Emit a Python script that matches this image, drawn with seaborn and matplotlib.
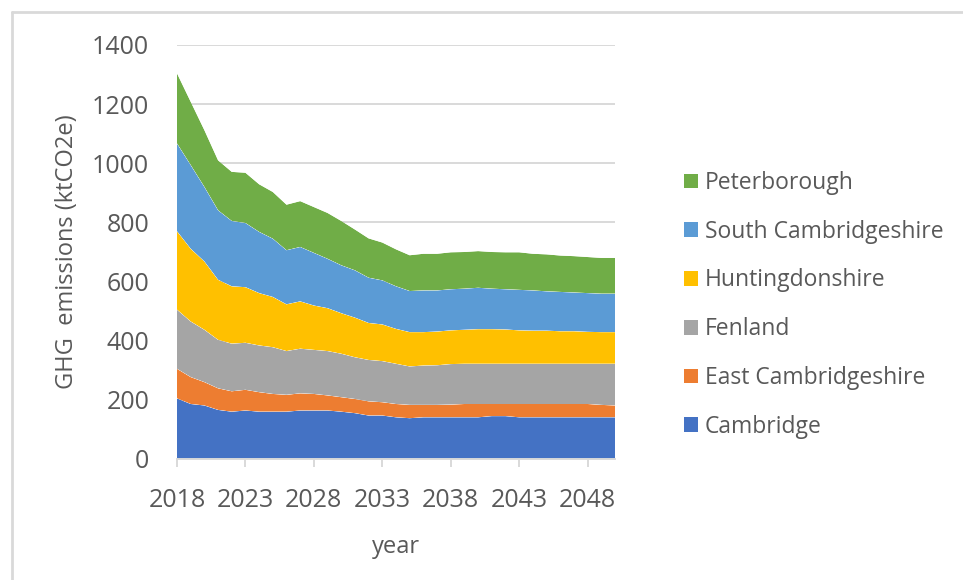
import pandas as pd
import matplotlib.pyplot as plt
from matplotlib.patches import Patch
from matplotlib.lines import Line2D
import seaborn as sns
import seaborn.objects as so

# Annual greenhouse gas emissions by district (ktCO2e)
years = list(range(2018, 2051))

cambridge = [205, 186, 181, 166, 160, 164, 160, 160, 160, 164, 164, 164, 160,
             155, 147, 147, 141, 138, 141, 141, 141, 141, 141, 145, 145, 141,
             141, 141, 141, 141, 141, 141, 141]
east_cambridgeshire = [100, 91, 79, 73, 69, 70, 66, 60, 57, 58, 56, 51, 49,
                       48, 48, 45, 45, 45, 42, 42, 43, 45, 45, 41, 41, 45,
                       45, 45, 45, 45, 45, 42, 40]
fenland = [200, 188, 177, 164, 161, 159, 158, 158, 148, 151, 149, 150, 147,
           141, 140, 139, 136, 130, 133, 134, 137, 136, 136, 136, 136, 136,
           136, 136, 136, 136, 136, 139, 141]
huntingdonshire = [265, 246, 231, 203, 194, 188, 177, 170, 158, 160, 150, 145,
                   137, 134, 125, 124, 118, 116, 113, 114, 114, 115, 117, 117,
                   116, 113, 112, 112, 110, 110, 108, 107, 107]
south_cambridgeshire = [297, 283, 252, 235, 221, 217, 207, 197, 183, 184, 178,
                        167, 162, 160, 153, 149, 144, 139, 141, 139, 139, 139,
                        140, 137, 136, 137, 136, 133, 133, 131, 131, 130, 130]
peterborough = [237, 214, 192, 169, 166, 170, 161, 158, 154, 155, 155, 155,
                150, 138, 133, 128, 125, 121, 124, 124, 125, 124, 124, 124,
                125, 127, 124, 125, 123, 123, 122, 121, 121]

regions = ["Cambridge", "East Cambridgeshire", "Fenland", "Huntingdonshire",
           "South Cambridgeshire", "Peterborough"]
colors = ["#4472C4", "#ED7D31", "#A5A5A5", "#FFC000", "#5B9BD5", "#70AD47"]
series = [cambridge, east_cambridgeshire, fenland, huntingdonshire,
          south_cambridgeshire, peterborough]

x_ticks = [2018, 2023, 2028, 2033, 2038, 2043, 2048]
y_ticks = [0, 200, 400, 600, 800, 1000, 1200, 1400]

# Long-format table, bottom layer first so stacking follows this order
df = pd.concat(
    [pd.DataFrame({"year": years, "emissions": vals, "region": name})
     for name, vals in zip(regions, series)],
    ignore_index=True,
)

sns.set_theme(style="white")
plt.rcParams["font.family"] = ["Open Sans", "DejaVu Sans"]

TEXT = "#595959"
LIGHT = "#d9d9d9"
W, H = 963, 580

fig = plt.figure(figsize=(W / 100, H / 100), dpi=100)
fig.patch.set_facecolor("white")
ax = fig.add_axes([177 / W, 1 - 459 / H, (615 - 177) / W, (459 - 45) / H])

(
    so.Plot(df, x="year", y="emissions", color="region")
    .add(so.Area(alpha=1, edgewidth=0), so.Stack(), legend=False)
    .scale(color=dict(zip(regions, colors)))
    .on(ax)
    .plot()
)

ax.set_facecolor("white")
ax.set_xlim(2018, 2050)
ax.set_ylim(0, 1400)
ax.set_xticks(x_ticks)
ax.set_xticklabels([str(t) for t in x_ticks])
ax.set_yticks(y_ticks)
ax.set_yticklabels([str(t) for t in y_ticks])

ax.set_axisbelow(True)
ax.yaxis.grid(True, color=LIGHT, linewidth=1.4)
ax.xaxis.grid(False)
for side in ["top", "right", "left"]:
    ax.spines[side].set_visible(False)
ax.spines["bottom"].set_color(LIGHT)
ax.spines["bottom"].set_linewidth(1.4)
ax.spines["bottom"].set_zorder(5)

ax.tick_params(axis="x", direction="out", length=6, width=1.4, color=LIGHT,
               labelsize=18, labelcolor=TEXT, pad=15, bottom=True)
ax.tick_params(axis="y", length=0, labelsize=18, labelcolor=TEXT, pad=20)

ax.set_xlabel("year", fontsize=17, color=TEXT, labelpad=16)
ax.set_ylabel("GHG  emissions (ktCO2e)", fontsize=17, color=TEXT, labelpad=9)

# Legend, top entry = top layer
handles = [Patch(facecolor=c, edgecolor="none", label=r)
           for r, c in zip(regions[::-1], colors[::-1])]
fig.legend(handles=handles, loc="upper left",
           bbox_to_anchor=(684 / W, 1 - 171 / H), frameon=False,
           fontsize=16.5, labelcolor=TEXT, handlelength=0.62,
           handleheight=0.62, handletextpad=0.3, labelspacing=1.08,
           borderpad=0, borderaxespad=0)

# Chart frame, partially cropped at the right and bottom
fig.add_artist(Line2D([12 / W, 1], [1 - 12 / H, 1 - 12 / H],
                      transform=fig.transFigure, color=LIGHT, linewidth=2))
fig.add_artist(Line2D([12 / W, 12 / W], [0, 1 - 12 / H],
                      transform=fig.transFigure, color=LIGHT, linewidth=2))

fig.savefig("out.png", dpi=100, facecolor="white")
